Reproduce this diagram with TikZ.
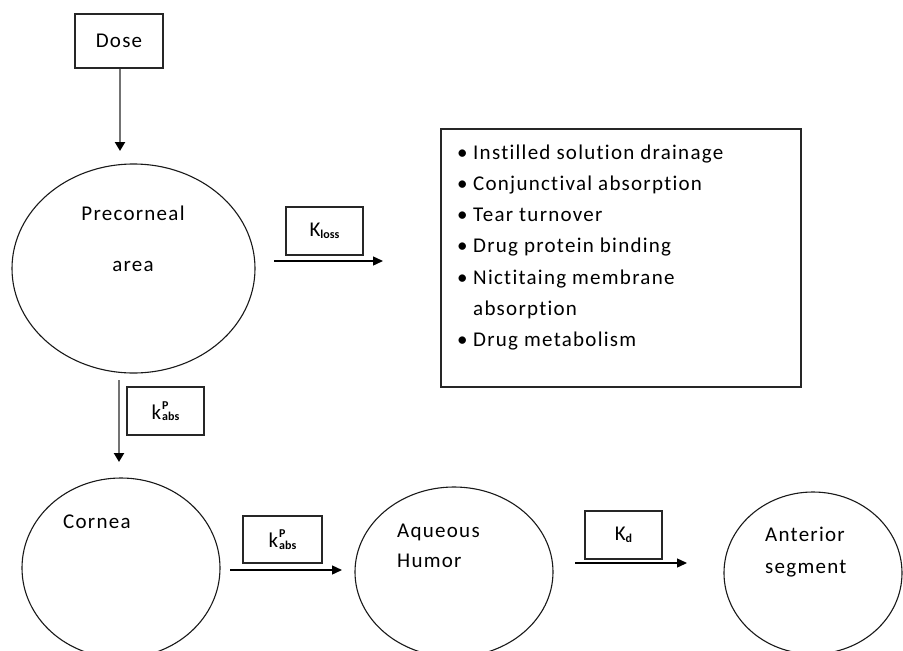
\documentclass[tikz,border=0pt]{standalone}
\usepackage{fontspec}
\setmainfont[LetterSpace=6,Ligatures=NoCommon]{Carlito}
\newfontfamily\subfont[LetterSpace=0,Ligatures=NoCommon]{Carlito}
\usetikzlibrary{shapes.geometric,arrows.meta}
\newcommand\smallsub[1]{{\subfont\fontsize{12}{12}\selectfont\bfseries #1}}
\newcommand\Kloss{K\raisebox{-1.5pt}{\smallsub{loss}}}
\newcommand\kabs{k\kern1pt\rlap{\raisebox{10pt}{\smallsub{P}}}\raisebox{-1.5pt}{\smallsub{abs}}}
\newcommand\Kdee{K\raisebox{-1.5pt}{\smallsub{d}}}
\begin{document}
\begin{tikzpicture}[x=1pt,y=-1pt,
  every node/.style={font=\fontsize{21}{25}\selectfont, text=black},
  comp/.style={draw=black!90, line width=1.1pt, ellipse, inner sep=0pt},
  rbox/.style={draw=black!85, line width=1.3pt, rectangle, inner sep=0pt},
  lbl/.style={anchor=base west, inner sep=0pt},
  grayarrow/.style={draw=black!55, line width=2.2pt, -{Triangle[length=9pt,width=10pt,fill=black,color=black]}},
  blackarrow/.style={draw=black, line width=1.4pt, -{Triangle[length=10pt,width=9pt]}}]
\clip (0,0) rectangle (903,651);
\fill[white] (0,0) rectangle (903,651);

% boxes
\node[rbox, minimum width=88pt, minimum height=54pt] (dose) at (119,41) {Dose};
\node[rbox, minimum width=77pt, minimum height=48pt] (kloss) at (324.5,231) {\Kloss};
\node[rbox, minimum width=77pt, minimum height=48pt] (kabs1) at (165.5,411) {\kabs};
\node[rbox, minimum width=79pt, minimum height=47pt] (kabs2) at (282.5,539.5) {\kabs};
\node[rbox, minimum width=77pt, minimum height=48pt] (kd) at (623.5,535) {\Kdee\hspace{20pt}};
\node[rbox, minimum width=360pt, minimum height=258pt] (list) at (621,258) {};

% compartments
\node[comp, minimum width=243pt, minimum height=209pt] (pre) at (133.5,268.5) {};
\node[comp, minimum width=198pt, minimum height=180pt] (cornea) at (121,568) {};
\node[comp, minimum width=198pt, minimum height=170pt] (aqueous) at (454,572) {};
\node[comp, minimum width=178pt, minimum height=162pt] (anterior) at (813,573) {};

% labels
\node[anchor=base, inner sep=0pt] (pre1) at (133,220) {Precorneal};
\node[anchor=base, inner sep=0pt] (pre2) at (133,271) {area};
\node[lbl] (cor1) at (63,528) {Cornea};
\node[lbl] (aq1) at (397,537) {Aqueous};
\node[lbl] (aq2) at (397,567) {Humor};
\node[lbl] (an1) at (765,541) {Anterior};
\node[lbl] (an2) at (765,573) {segment};

% list
\node[lbl] (l1) at (457,159) {\makebox[16pt][l]{\subfont\textbullet}Instilled solution drainage};
\node[lbl] (l2) at (457,190) {\makebox[16pt][l]{\subfont\textbullet}Conjunctival absorption};
\node[lbl] (l3) at (457,221.5) {\makebox[16pt][l]{\subfont\textbullet}Tear turnover};
\node[lbl] (l4) at (457,252.5) {\makebox[16pt][l]{\subfont\textbullet}Drug protein binding};
\node[lbl] (l5) at (457,284) {\makebox[16pt][l]{\subfont\textbullet}Nictitaing membrane};
\node[lbl] (l6) at (457,315) {\makebox[16pt][l]{}absorption};
\node[lbl] (l7) at (457,346.5) {\makebox[16pt][l]{\subfont\textbullet}Drug metabolism};

% connector end points
\coordinate (d1) at (120,151);
\coordinate (p1) at (119,380);
\coordinate (p2) at (119,462);
\coordinate (k1) at (274,261);
\coordinate (k2) at (383,261);
\coordinate (c1) at (230,570);
\coordinate (c2) at (342,570);
\coordinate (a1) at (575,563);
\coordinate (a2) at (687,563);

\draw[grayarrow] (dose.south -| d1) -- (d1);
\draw[grayarrow] (p1) -- (p2);
\draw[blackarrow] (k1) -- (k2);
\draw[blackarrow] (c1) -- (c2);
\draw[blackarrow] (a1) -- (a2);
\end{tikzpicture}
\end{document}
